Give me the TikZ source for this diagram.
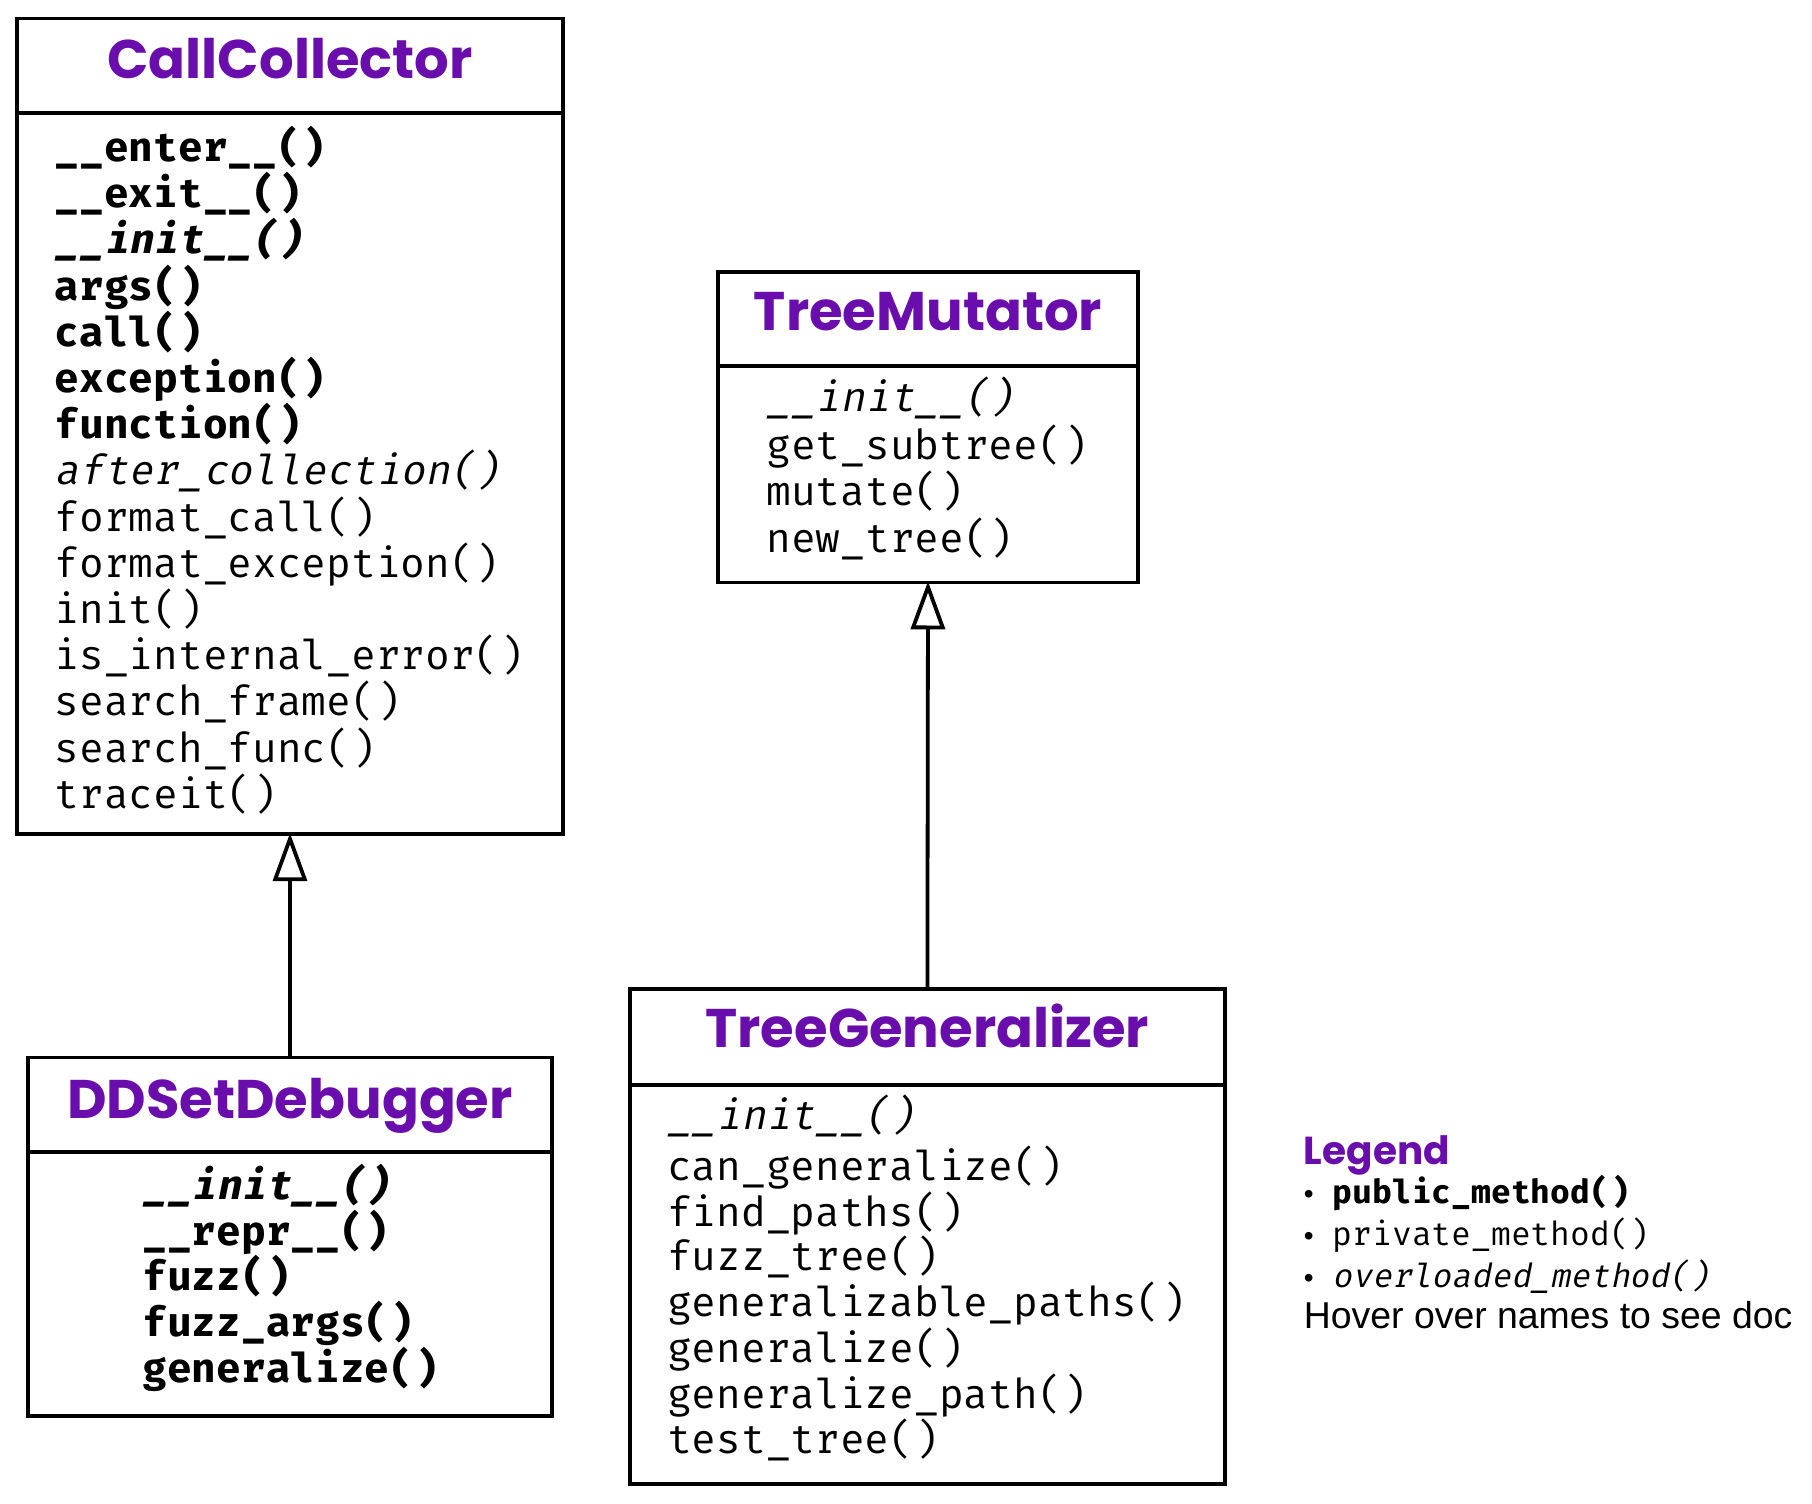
\documentclass[tikz,border=0pt]{standalone}
\usepackage{fontspec}
\usetikzlibrary{arrows.meta}
\newfontfamily\titlefont{Poppins}
\newfontfamily\methfont{Fira Mono}[BoldFont={Fira Mono Bold}, ItalicFont={Fira Mono}, ItalicFeatures={FakeSlant=0.2}, BoldItalicFont={Fira Mono Bold}, BoldItalicFeatures={FakeSlant=0.2}]
\newfontfamily\legsans{Liberation Sans}
\definecolor{titlepurple}{RGB}{106,13,173}
\tikzset{
  classbox/.style={draw, line width=1.9pt, inner sep=0pt, fill=white},
  sepline/.style={line width=1.9pt},
  ctitle/.style={anchor=base, inner sep=0pt, text=titlepurple, font=\titlefont\bfseries\fontsize{27.2pt}{30pt}\selectfont},
  mpub/.style={anchor=base west, inner sep=0pt, font=\methfont\bfseries\fontsize{20.6pt}{24pt}\selectfont},
  mpubover/.style={anchor=base west, inner sep=0pt, font=\methfont\bfseries\itshape\fontsize{20.6pt}{24pt}\selectfont},
  mpriv/.style={anchor=base west, inner sep=0pt, font=\methfont\fontsize{20.6pt}{24pt}\selectfont},
  mover/.style={anchor=base west, inner sep=0pt, font=\methfont\itshape\fontsize{20.6pt}{24pt}\selectfont},
  inherit/.style={line width=1.9pt, shorten >=-1.5pt, -{Triangle[open, length=24pt, width=17pt]}},
  legtitle/.style={anchor=base west, inner sep=0pt, text=titlepurple, font=\titlefont\bfseries\fontsize{19.5pt}{22pt}\selectfont},
  legline/.style={anchor=base west, inner sep=0pt},
}
\newcommand{\legmono}{\methfont\fontsize{16.5pt}{18pt}\selectfont}
\newcommand{\legbul}{\makebox[14.5pt][l]{\legsans\fontsize{14pt}{18pt}\selectfont •}}
\begin{document}
\begin{tikzpicture}[x=0.5pt,y=-0.5pt]
\useasboundingbox (0,0) rectangle (1812,1504);
% ---------- boxes
\node[classbox, minimum width=272.75pt, minimum height=407.9pt] (cc) at (290,426.4) {};
\node[classbox, minimum width=262.35pt, minimum height=179.1pt] (dd) at (290,1236.5) {};
\node[classbox, minimum width=210.35pt, minimum height=155.4pt] (tm) at (928,427) {};
\node[classbox, minimum width=297.55pt, minimum height=247.3pt] (tg) at (927.4,1236.5) {};
% separators
\draw[sepline] (cc.west |- 0,113.2) -- (cc.east |- 0,113.2);
\draw[sepline] (dd.west |- 0,1152.1) -- (dd.east |- 0,1152.1);
\draw[sepline] (tm.west |- 0,366.3) -- (tm.east |- 0,366.3);
\draw[sepline] (tg.west |- 0,1085.1) -- (tg.east |- 0,1085.1);
% titles
\node[ctitle] (cct) at (290,79) {CallCollector};
\node[ctitle] (ddt) at (290,1118.5) {DDSetDebugger};
\node[ctitle] (tmt) at (928,330.5) {TreeMutator};
\node[ctitle] (tgt) at (927.4,1047) {TreeGeneralizer};
% CallCollector methods
\node[mpub] (cc1) at (54.3,161.4) {\_\_enter\_\_()};
\node[mpub] (cc2) at (54.3,207.6) {\_\_exit\_\_()};
\node[mpubover] (cc3) at (54.3,253.8) {\_\_init\_\_()};
\node[mpub] (cc4) at (54.3,300.0) {args()};
\node[mpub] (cc5) at (54.3,346.2) {call()};
\node[mpub] (cc6) at (54.3,392.4) {exception()};
\node[mpub] (cc7) at (54.3,438.6) {function()};
\node[mover] (cc8) at (54.3,484.8) {after\_collection()};
\node[mpriv] (cc9) at (54.3,531.0) {format\_call()};
\node[mpriv] (cc10) at (54.3,577.2) {format\_exception()};
\node[mpriv] (cc11) at (54.3,623.4) {init()};
\node[mpriv] (cc12) at (54.3,669.6) {is\_internal\_error()};
\node[mpriv] (cc13) at (54.3,715.8) {search\_frame()};
\node[mpriv] (cc14) at (54.3,762.0) {search\_func()};
\node[mpriv] (cc15) at (54.3,808.2) {traceit()};
% DDSetDebugger methods
\node[mpubover] (dd1) at (142.1,1199) {\_\_init\_\_()};
\node[mpub] (dd2) at (142.1,1245) {\_\_repr\_\_()};
\node[mpub] (dd3) at (142.1,1290.5) {fuzz()};
\node[mpub] (dd4) at (142.1,1336.5) {fuzz\_args()};
\node[mpub] (dd5) at (142.1,1382.5) {generalize()};
% TreeMutator methods
\node[mover] (tm1) at (766,411) {\_\_init\_\_()};
\node[mpriv] (tm2) at (766,459) {get\_subtree()};
\node[mpriv] (tm3) at (766,505.5) {mutate()};
\node[mpriv] (tm4) at (766,552) {new\_tree()};
% TreeGeneralizer methods
\node[mover] (tg1) at (666.8,1129) {\_\_init\_\_()};
\node[mpriv] (tg2) at (666.8,1180) {can\_generalize()};
\node[mpriv] (tg3) at (666.8,1226) {find\_paths()};
\node[mpriv] (tg4) at (666.8,1270.5) {fuzz\_tree()};
\node[mpriv] (tg5) at (666.8,1316) {generalizable\_paths()};
\node[mpriv] (tg6) at (666.8,1362) {generalize()};
\node[mpriv] (tg7) at (666.8,1408) {generalize\_path()};
\node[mpriv] (tg8) at (666.8,1453.8) {test\_tree()};
% inheritance
\draw[inherit] (dd.north) -- (cc.south);
\draw[inherit] (tg.north) -- (tm.south);
% legend
\node[legtitle] (lg) at (1303.5,1164) {Legend};
\node[legline] (lg1) at (1303.5,1203) {\legbul{\legmono\bfseries public\_method()}};
\node[legline] (lg2) at (1303.5,1245) {\legbul{\legmono private\_method()}};
\node[legline] (lg3) at (1303.5,1287) {\legbul{\legmono\itshape overloaded\_method()}};
\node[legline] (lg4) at (1303.5,1328) {\legsans\fontsize{18.7pt}{20pt}\selectfont Hover over names to see doc};
\end{tikzpicture}
\end{document}
